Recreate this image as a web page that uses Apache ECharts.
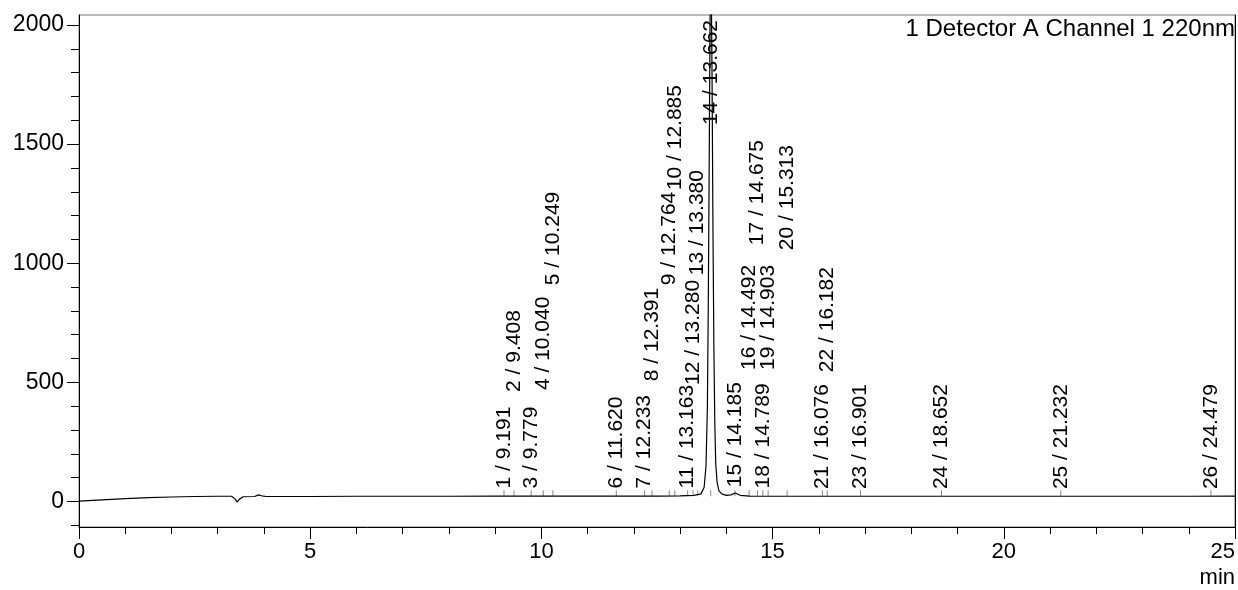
<!DOCTYPE html>
<html>
<head>
<meta charset="utf-8">
<script src="https://cdn.jsdelivr.net/npm/echarts@6/dist/echarts.min.js"></script>
<style>
html,body{margin:0;padding:0;background:#fff;}
#main{width:1238px;height:590px;}
</style>
</head>
<body>
<div id="main"></div>
<script>
// ---- chromatogram trace (time in min, signal in mAU) ----
const traceTime = [0, 0.5, 1, 1.5, 2, 2.5, 3.0, 3.3, 3.38, 3.42, 3.47, 3.55, 3.8, 3.88, 3.95, 4.05, 4.5, 5, 6, 7, 8, 9, 9.5, 10, 10.5, 11, 11.5, 12, 12.5, 13, 13.3, 13.45, 13.52, 13.56, 13.59, 13.61, 13.63, 13.65, 13.67, 13.69, 13.71, 13.73, 13.75, 13.77, 13.8, 13.84, 13.9, 14.0, 14.1, 14.19, 14.3, 14.5, 15, 15.5, 16, 17, 18, 19, 20, 21, 22, 23, 24, 25];
const traceValue = [2, 7, 12, 16, 19, 21, 22, 22, 10, -3, 10, 20, 21, 28, 24, 21, 21, 21, 22, 22, 22, 23, 23, 23, 23, 23, 23, 23, 23, 24, 26, 32, 60, 150, 400, 850, 1450, 2100, 2250, 1800, 1150, 650, 330, 160, 80, 45, 32, 26, 28, 36, 26, 23, 22, 22, 22, 22, 22, 22, 22, 22, 22, 22, 22, 23];

// ---- peak table ----
const peakNo = [1, 2, 3, 4, 5, 6, 7, 8, 9, 10, 11, 12, 13, 14, 15, 16, 17, 18, 19, 20, 21, 22, 23, 24, 25, 26];
const peakRT = [9.191, 9.408, 9.779, 10.040, 10.249, 11.620, 12.233, 12.391, 12.764, 12.885, 13.163, 13.280, 13.380, 13.662, 14.185, 14.492, 14.675, 14.789, 14.903, 15.313, 16.076, 16.182, 16.901, 18.652, 21.232, 24.479];
// signal level (mAU) at which each peak annotation starts
const labelStart = [55, 460, 55, 468, 908, 55, 55, 505, 908, 1307, 55, 489, 950, 1580, 60, 552, 1076, 55, 552, 1055, 52, 543, 52, 52, 52, 52];
const peakBase = 22;

// ---- axis ticks ----
const yMajor = [0, 500, 1000, 1500, 2000];
const yMinor = [-100, 100, 200, 300, 400, 600, 700, 800, 900, 1100, 1200, 1300, 1400, 1600, 1700, 1800, 1900];
const titleText = '1 Detector A Channel 1 220nm';
const xUnit = 'min';

const FONT = '"Liberation Sans", Arial, sans-serif';
const trace = traceTime.map((t, i) => [t, traceValue[i]]);
const labels = peakRT.map((rt, i) => [rt, labelStart[i], peakNo[i] + ' / ' + rt.toFixed(3)]);
const marks = peakRT.map(rt => [rt, peakBase]);

const yMin = -107, yMax = 2042;
const chart = echarts.init(document.getElementById('main'), null, {renderer: 'canvas'});
chart.setOption({
  animation: false,
  backgroundColor: '#fff',
  title: [
    {text: titleText, right: 3, top: 17, padding: 0,
     textStyle: {fontFamily: FONT, fontSize: 24, fontWeight: 'normal', color: '#000'}},
    {text: xUnit, right: 3, top: 567, padding: 0,
     textStyle: {fontFamily: FONT, fontSize: 22, fontWeight: 'normal', color: '#000'}}
  ],
  grid: {left: 79, right: 3, top: 15, bottom: 63, show: true, borderColor: '#777', borderWidth: 1, containLabel: false},
  xAxis: {
    type: 'value', min: 0, max: 25, interval: 5,
    axisLine: {show: true, onZero: false, lineStyle: {color: '#000', width: 1}},
    axisTick: {show: true, length: 12, lineStyle: {color: '#000'}},
    minorTick: {show: true, splitNumber: 5, length: 7, lineStyle: {color: '#000'}},
    axisLabel: {fontFamily: FONT, fontSize: 22, color: '#000', margin: 14, alignMaxLabel: 'right'},
    splitLine: {show: false}
  },
  yAxis: [
    {
      type: 'value', min: yMin, max: yMax, position: 'left',
      axisLine: {show: true, onZero: false, lineStyle: {color: '#000', width: 1}},
      axisTick: {show: true, length: 12, customValues: yMajor, lineStyle: {color: '#000'}},
      axisLabel: {show: true, customValues: yMajor, formatter: v => String(v), fontFamily: FONT, fontSize: 23, color: '#000', margin: 15},
      splitLine: {show: false}
    },
    {
      type: 'value', min: yMin, max: yMax, position: 'left',
      axisLine: {show: false},
      axisTick: {show: true, length: 8, customValues: yMinor, lineStyle: {color: '#000'}},
      axisLabel: {show: false},
      splitLine: {show: false}
    },
    {
      type: 'value', min: yMin, max: yMax, position: 'right',
      axisLine: {show: true, onZero: false, lineStyle: {color: '#000', width: 1}},
      axisTick: {show: false}, axisLabel: {show: false}, splitLine: {show: false}
    }
  ],
  series: [
    {
      type: 'line', data: trace, yAxisIndex: 0, showSymbol: false, symbol: 'none',
      clip: true, smooth: false,
      lineStyle: {color: '#000', width: 1.2}
    },
    {
      type: 'scatter', data: marks, yAxisIndex: 0, symbol: 'rect', symbolSize: [1, 6], symbolOffset: [0, -3],
      itemStyle: {color: '#888', opacity: 1}, silent: true
    },
    {
      type: 'scatter', data: labels, yAxisIndex: 0, symbolSize: 0, silent: true,
      itemStyle: {opacity: 1},
      label: {
        show: true, position: 'inside', rotate: 90, align: 'left', verticalAlign: 'middle',
        formatter: p => p.data[2], opacity: 1, textBorderWidth: 0,
        fontFamily: FONT, fontSize: 21, color: '#000'
      }
    }
  ]
});
</script>
</body>
</html>
